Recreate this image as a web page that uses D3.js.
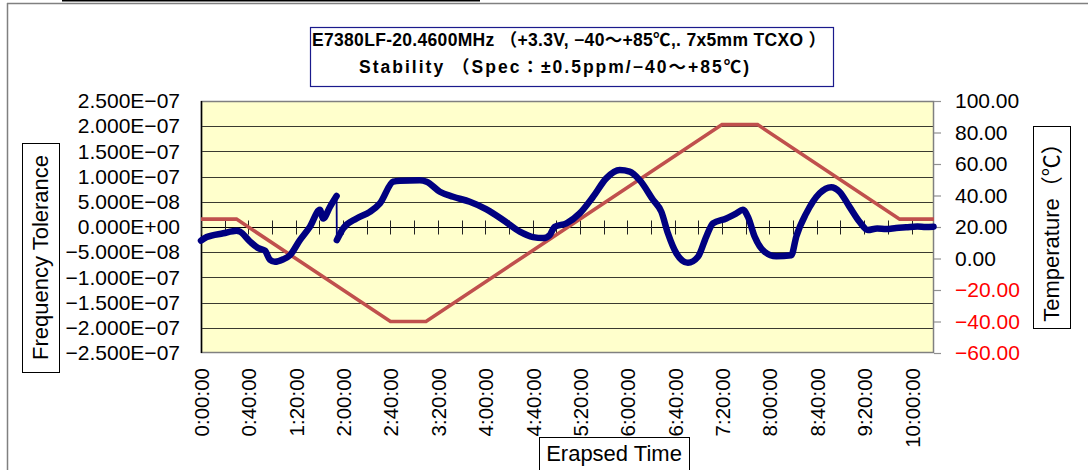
<!DOCTYPE html>
<html><head><meta charset="utf-8">
<script src="https://cdn.jsdelivr.net/npm/d3@7"></script>
<style>body{margin:0;background:#fff}</style>
</head><body>
<svg id="c" width="1088" height="470"></svg>
<script>
// ---------- data ----------
const titleLines = ["E7380LF-20.4600MHz （+3.3V, −40～+85℃,. 7x5mm TCXO ）", "Stability （Spec：±0.5ppm/−40～+85℃)"];
const leftAxisTitle = "Frequency Tolerance";
const rightAxisTitle = "Temperature（℃）";
const xAxisTitle = "Erapsed Time";

const leftTicks = [2.5e-7, 2.0e-7, 1.5e-7, 1.0e-7, 5.0e-8, 0, -5.0e-8, -1.0e-7, -1.5e-7, -2.0e-7, -2.5e-7];
const leftTickLabels = ["2.500E−07","2.000E−07","1.500E−07","1.000E−07","5.000E−08","0.000E+00","−5.000E−08","−1.000E−07","−1.500E−07","−2.000E−07","−2.500E−07"];
const rightTicks = [100, 80, 60, 40, 20, 0, -20, -40, -60];
const rightTickLabels = ["100.00","80.00","60.00","40.00","20.00","0.00","−20.00","−40.00","−60.00"];
const xLabelMinutes = [0,40,80,120,160,200,240,280,320,360,400,440,480,520,560,600];
const xLabels = ["0:00:00","0:40:00","1:20:00","2:00:00","2:40:00","3:20:00","4:00:00","4:40:00","5:20:00","6:00:00","6:40:00","7:20:00","8:00:00","8:40:00","9:20:00","10:00:00"];
const xTickMinutes = [0,20,40,60,80,100,120,140,160,180,200,220,240,260,280,300,320,340,360,380,400,420,440,460,480,500,520,540,560,580,600];

// temperature profile (°C) vs elapsed minutes
const tempTime  = [0, 30, 160, 190, 440, 470, 590, 619];
const tempValue = [25, 25, -40, -40, 85, 85, 25, 25];

// frequency tolerance vs elapsed minutes
const freqTime = [0, 4.8, 18.8, 30.1, 32.9, 41.4, 48.4, 54.0, 58.2, 62.4, 69.5, 75.1, 83.5, 92.0, 100.4, 103.2, 108.9, 114.5,
  114.7, 120.1, 131.4, 142.6, 151.1, 162.3, 168, 184.8, 190.5, 201.7, 212.9, 227.0, 241.1, 255.1, 269.2, 280.4, 288.9, 294.5,
  298.7, 308.6, 319.8, 331.1, 342.4, 353.6, 362.0, 370.5, 381.7, 388.8, 394.3, 401.4, 411.2, 419.7, 426.7, 432.3, 443.6,
  452.1, 457.6, 461.9, 467.5, 475.9, 485.8, 498.5, 502.7, 511.1, 522.4, 532.2, 539.2, 547.7, 556.1, 563.1, 571, 578.6,
  587, 595.5, 605, 612, 618.6];
const freqValue = [-2.7e-8, -2.0e-8, -1.25e-8, -0.73e-8, -0.93e-8, -2.9e-8, -4.2e-8, -4.7e-8, -6.5e-8, -6.9e-8, -6.4e-8, -5.6e-8,
  -2.6e-8, 0.06e-8, 3.4e-8, 1.7e-8, 4.0e-8, 6.15e-8,
  -2.6e-8, -0.26e-8, 1.7e-8, 3.0e-8, 4.7e-8, 9.0e-8, 9.2e-8, 9.3e-8, 9.0e-8, 7.0e-8, 6.0e-8, 5.0e-8, 3.5e-8, 1.4e-8,
  -0.93e-8, -2.0e-8, -2.2e-8, -1.6e-8, 0.06e-8, 0.73e-8, 2.7e-8, 6.0e-8, 9.7e-8, 11.3e-8, 11.0e-8, 9.3e-8, 5.4e-8, 3.0e-8,
  -1.25e-8, -5.2e-8, -7.1e-8, -5.9e-8, -1.9e-8, 0.73e-8, 1.7e-8, 2.7e-8, 3.4e-8, 2.0e-8, -1.9e-8, -4.9e-8, -5.8e-8, -5.6e-8,
  -1.9e-8, 2.7e-8, 6.7e-8, 7.9e-8, 7.0e-8, 4.0e-8, 1.05e-8, -0.6e-8, -0.3e-8, -0.4e-8, -0.2e-8, -0.06e-8, 0.1e-8, 0.0e-8, 0.06e-8];

// ---------- drawing ----------
const svg = d3.select("#c");
const FONT = "'Liberation Sans', Arial, 'Noto Sans CJK JP', sans-serif";
const plot = {l: 201, r: 934, t: 101, b: 353};

const x = d3.scaleLinear().domain([0, 619]).range([plot.l, plot.r]);
const yL = d3.scaleLinear().domain([-2.5e-7, 2.5e-7]).range([plot.b, plot.t]);
const yR = d3.scaleLinear().domain([-60, 100]).range([plot.b, plot.t]);

// outer frame
svg.append("line").attr("x1", 7).attr("x2", 1088).attr("y1", 3.5).attr("y2", 3.5).attr("stroke", "#808080").attr("stroke-width", 1.5);
svg.append("line").attr("x1", 7.5).attr("x2", 7.5).attr("y1", 3).attr("y2", 470).attr("stroke", "#808080").attr("stroke-width", 1.5);
svg.append("line").attr("x1", 62).attr("x2", 480).attr("y1", 0.8).attr("y2", 0.8).attr("stroke", "#000").attr("stroke-width", 1.6);

// title box
svg.append("rect").attr("x", 310.5).attr("y", 27.5).attr("width", 523).attr("height", 59)
  .attr("fill", "#fff").attr("stroke", "#1a1a8c").attr("stroke-width", 1.2);
svg.append("text").attr("x", 312).attr("y", 46).attr("textLength", 514).attr("lengthAdjust", "spacing")
  .attr("font-family", FONT).attr("font-weight", "bold").attr("font-size", 17.5).text(titleLines[0]);
svg.append("text").attr("x", 359).attr("y", 73).attr("textLength", 390).attr("lengthAdjust", "spacing")
  .attr("font-family", FONT).attr("font-weight", "bold").attr("font-size", 17.5).text(titleLines[1]);

// plot background
svg.append("rect").attr("x", plot.l).attr("y", plot.t).attr("width", plot.r - plot.l).attr("height", plot.b - plot.t)
  .attr("fill", "#FFFFCC");

// gridlines
svg.append("g").selectAll("line").data(leftTicks.filter(v => v !== 0 && Math.abs(v) < 2.5e-7)).join("line")
  .attr("x1", plot.l).attr("x2", plot.r)
  .attr("y1", d => Math.round(yL(d)) + 0.5).attr("y2", d => Math.round(yL(d)) + 0.5)
  .attr("stroke", "#3a3a30").attr("stroke-width", 1);

// plot border
svg.append("rect").attr("x", plot.l + 0.5).attr("y", plot.t + 0.5).attr("width", plot.r - plot.l - 1).attr("height", plot.b - plot.t - 1)
  .attr("fill", "none").attr("stroke", "#808080").attr("stroke-width", 1.5);
svg.append("line").attr("x1", plot.l + 0.5).attr("x2", plot.l + 0.5).attr("y1", plot.t).attr("y2", plot.b)
  .attr("stroke", "#000").attr("stroke-width", 1.5);

// x axis line at zero with crossing ticks
const y0 = Math.round(yL(0)) + 0.5;
svg.append("line").attr("x1", plot.l).attr("x2", plot.r).attr("y1", y0).attr("y2", y0).attr("stroke", "#000").attr("stroke-width", 1.2);
svg.append("g").selectAll("line").data(xTickMinutes).join("line")
  .attr("x1", d => Math.round(x(d)) + 0.5).attr("x2", d => Math.round(x(d)) + 0.5)
  .attr("y1", y0 - 7).attr("y2", y0 + 7).attr("stroke", "#222").attr("stroke-width", 1);

// left axis labels
const gl = svg.append("g").attr("transform", `translate(${plot.l},0)`)
  .call(d3.axisLeft(yL).tickValues(leftTicks).tickFormat((d, i) => leftTickLabels[i]).tickSize(0).tickPadding(21));
gl.select(".domain").remove();
gl.selectAll("text").attr("font-family", FONT).attr("font-size", 21).attr("fill", "#000");

// right axis
const gr = svg.append("g").attr("transform", `translate(${plot.r},0)`)
  .call(d3.axisRight(yR).tickValues(rightTicks).tickFormat((d, i) => rightTickLabels[i]).tickSize(7).tickPadding(14));
gr.select(".domain").remove();
gr.selectAll("line").attr("stroke", "#909090").attr("stroke-width", 1.2);
gr.selectAll("text").attr("font-family", FONT).attr("font-size", 21).attr("fill", d => d < 0 ? "#FF0000" : "#000");

// x labels
const gx = svg.append("g").attr("transform", `translate(0,${plot.b})`)
  .call(d3.axisBottom(x).tickValues(xLabelMinutes).tickFormat((d, i) => xLabels[i]).tickSize(0));
gx.select(".domain").remove();
gx.selectAll("text").attr("font-family", FONT).attr("font-size", 20.5).attr("fill", "#000")
  .attr("text-anchor", "end").attr("dy", null).attr("y", 0)
  .attr("dominant-baseline", "central")
  .attr("transform", "translate(0,15) rotate(-90)");

// temperature line
const tempData = tempTime.map((t, i) => [t, tempValue[i]]);
svg.append("path").datum(tempData)
  .attr("d", d3.line().x(d => x(d[0])).y(d => yR(d[1])))
  .attr("fill", "none").attr("stroke", "#C0504D").attr("stroke-width", 3.6).attr("stroke-linejoin", "miter");

// frequency line: thin connecting line + thick markers-like trace
const freqData = freqTime.map((t, i) => [t, freqValue[i]]);
svg.append("path").datum(freqData)
  .attr("d", d3.line().x(d => x(d[0])).y(d => yL(d[1])))
  .attr("fill", "none").attr("stroke", "#000080").attr("stroke-width", 1.8);
const segs = [];
let cur = [];
freqData.forEach((d, i) => {
  if (i > 0 && d[0] - freqData[i - 1][0] < 0.5) { segs.push(cur); cur = []; }
  cur.push(d);
});
segs.push(cur);
svg.append("g").selectAll("path").data(segs).join("path")
  .attr("d", d3.line().x(d => x(d[0])).y(d => yL(d[1])).curve(d3.curveMonotoneX))
  .attr("fill", "none").attr("stroke", "#000080").attr("stroke-width", 6.5)
  .attr("stroke-linejoin", "round").attr("stroke-linecap", "round");

// axis title boxes
function titleBox(bx, by, bw, bh, txt, rotate) {
  svg.append("rect").attr("x", bx + 0.5).attr("y", by + 0.5).attr("width", bw).attr("height", bh)
    .attr("fill", "#fff").attr("stroke", "#000").attr("stroke-width", 1);
  const cx = bx + bw / 2, cy = by + bh / 2;
  svg.append("text").attr("x", 0).attr("y", 0)
    .attr("transform", `translate(${cx},${cy})` + (rotate ? " rotate(-90)" : ""))
    .attr("text-anchor", "middle").attr("dominant-baseline", "central")
    .attr("font-family", FONT).attr("font-size", 22).attr("fill", "#000").text(txt);
}
titleBox(22, 143, 37, 229, leftAxisTitle, true);
titleBox(1033, 126, 37, 202, rightAxisTitle, true);
titleBox(539, 437, 150, 33, xAxisTitle, false);
</script>
</body></html>
